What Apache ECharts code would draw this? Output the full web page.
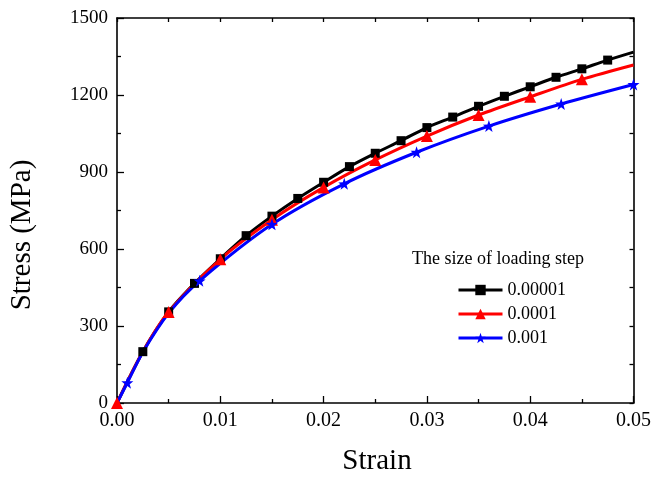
<!DOCTYPE html>
<html>
<head>
<meta charset="utf-8">
<script src="https://cdn.jsdelivr.net/npm/echarts@6/dist/echarts.min.js"></script>
<style>html,body{margin:0;padding:0;background:#fff}#c{width:654px;height:477px}</style>
</head>
<body>
<div id="c"></div>
<script>
// ---- data ----
const seriesNames = ['0.00001', '0.0001', '0.001'];
const legendTitle = 'The size of loading step';
const xTickLabels = ['0.00', '0.01', '0.02', '0.03', '0.04', '0.05'];
const yTickLabels = ['0', '300', '600', '900', '1200', '1500'];

const strainA = [0, 0.0025, 0.005, 0.0075, 0.01, 0.0125, 0.015, 0.0175, 0.02, 0.0225, 0.025, 0.0275, 0.03, 0.0325, 0.035, 0.0375, 0.04, 0.0425, 0.045, 0.0475, 0.05];
const stressA = [0, 200, 355, 466, 562, 652, 728, 797, 860, 921, 973, 1022, 1073, 1114, 1156, 1195, 1232, 1269, 1302, 1336, 1367];
const markA   = [0, 1, 1, 1, 1, 1, 1, 1, 1, 1, 1, 1, 1, 1, 1, 1, 1, 1, 1, 1, 0];

const strainB = [0, 0.0025, 0.005, 0.01, 0.015, 0.02, 0.025, 0.03, 0.035, 0.04, 0.045, 0.05];
const stressB = [0, 200, 355, 560, 714, 840, 947, 1040, 1122, 1193, 1261, 1317];
const markB   = [1, 0, 1, 1, 1, 1, 1, 1, 1, 1, 1, 0];

const strainC = [0, 0.001, 0.0025, 0.005, 0.008, 0.015, 0.022, 0.029, 0.036, 0.043, 0.05];
const stressC = [0, 79, 198, 350, 476, 696, 854, 977, 1079, 1165, 1241];
const markC   = [0, 1, 0, 0, 1, 1, 1, 1, 1, 1, 1];

const starPath = 'path://M0,-10L2.35,-3.24L9.51,-3.09L3.8,1.24L5.88,8.09L0,4L-5.88,8.09L-3.8,1.24L-9.51,-3.09L-2.35,-3.24Z';

function build(xs, ys, marks) {
  return xs.map((x, i) => marks[i] ? { value: [x, ys[i]] } : { value: [x, ys[i]], symbol: 'none' });
}

const font = 'Liberation Serif, Times New Roman, serif';
const chart = echarts.init(document.getElementById('c'), null, { renderer: 'canvas' });

const gridL = 117, gridR = 18, gridT = 18, gridB = 74;

function mkSeries(name, color, symbol, size, data) {
  return {
    name: name, type: 'line', smooth: 0.3, data: data,
    symbol: symbol, symbolSize: size, showAllSymbol: true,
    lineStyle: { color: color, width: 3 },
    itemStyle: { color: color },
    xAxisIndex: 0, yAxisIndex: 0,
    emphasis: { disabled: true }, animation: false
  };
}

const lineSt = { color: '#000', width: 1.6 };
const tickSt = { color: '#000', width: 1.3 };

chart.setOption({
  animation: false,
  backgroundColor: '#fff',
  grid: { left: gridL, right: gridR, top: gridT, bottom: gridB, containLabel: false },
  title: {
    text: legendTitle, left: 407, top: 245,
    textStyle: { fontFamily: font, fontSize: 18, fontWeight: 'normal', color: '#000' }
  },
  legend: {
    data: seriesNames, orient: 'vertical', left: 452, top: 276,
    itemWidth: 44, itemHeight: 13, itemGap: 6,
    lineStyle: { width: 3 },
    textStyle: { fontFamily: font, fontSize: 18, color: '#000', lineHeight: 18 },
    selectedMode: false
  },
  xAxis: [
    {
      type: 'value', min: 0, max: 0.05, interval: 0.01, position: 'bottom',
      axisLine: { onZero: false, lineStyle: lineSt },
      axisTick: { inside: true, length: 7, lineStyle: tickSt },
      minorTick: { show: true, splitNumber: 2, length: 4, lineStyle: tickSt },
      splitLine: { show: false },
      axisLabel: {
        fontFamily: font, fontSize: 20, color: '#000', margin: 8,
        formatter: function (v) { return xTickLabels[Math.round(v / 0.01)]; }
      }
    },
    {
      type: 'value', min: 0, max: 0.05, interval: 0.01, position: 'top',
      axisLine: { show: true, onZero: false, lineStyle: lineSt },
      axisTick: { show: true, inside: true, length: 4, lineStyle: tickSt },
      minorTick: { show: true, splitNumber: 2, length: 4, lineStyle: tickSt },
      splitLine: { show: false }, axisLabel: { show: false }
    }
  ],
  yAxis: [
    {
      type: 'value', min: 0, max: 1500, interval: 300, position: 'left',
      axisLine: { show: true, onZero: false, lineStyle: lineSt },
      axisTick: { show: true, inside: true, length: 7, lineStyle: tickSt },
      minorTick: { show: true, splitNumber: 2, length: 4, lineStyle: tickSt },
      splitLine: { show: false },
      axisLabel: {
        fontFamily: font, fontSize: 19, color: '#000', margin: 9,
        formatter: function (v) { return yTickLabels[Math.round(v / 300)]; }
      }
    },
    {
      type: 'value', min: 0, max: 1500, interval: 300, position: 'right',
      axisLine: { show: true, onZero: false, lineStyle: lineSt },
      axisTick: { show: true, inside: true, length: 4, lineStyle: tickSt },
      minorTick: { show: true, splitNumber: 2, length: 4, lineStyle: tickSt },
      splitLine: { show: false }, axisLabel: { show: false }
    }
  ],
  graphic: [
    {
      type: 'text', id: 'xname', x: 377, y: 461,
      style: { text: 'Strain', fontFamily: font, fontSize: 29, fill: '#000', align: 'center', verticalAlign: 'middle' }
    },
    {
      type: 'text', id: 'yname',
      x: 22, y: 235, rotation: Math.PI / 2,
      style: { text: 'Stress (MPa)', fontFamily: font, fontSize: 29, fill: '#000', align: 'center', verticalAlign: 'middle' }
    }
  ],
  series: [
    mkSeries(seriesNames[0], '#000000', 'rect', 9, build(strainA, stressA, markA)),
    mkSeries(seriesNames[1], '#ff0000', 'triangle', 12, build(strainB, stressB, markB)),
    mkSeries(seriesNames[2], '#0000ff', starPath, 12, build(strainC, stressC, markC))
  ]
});
</script>
</body>
</html>
